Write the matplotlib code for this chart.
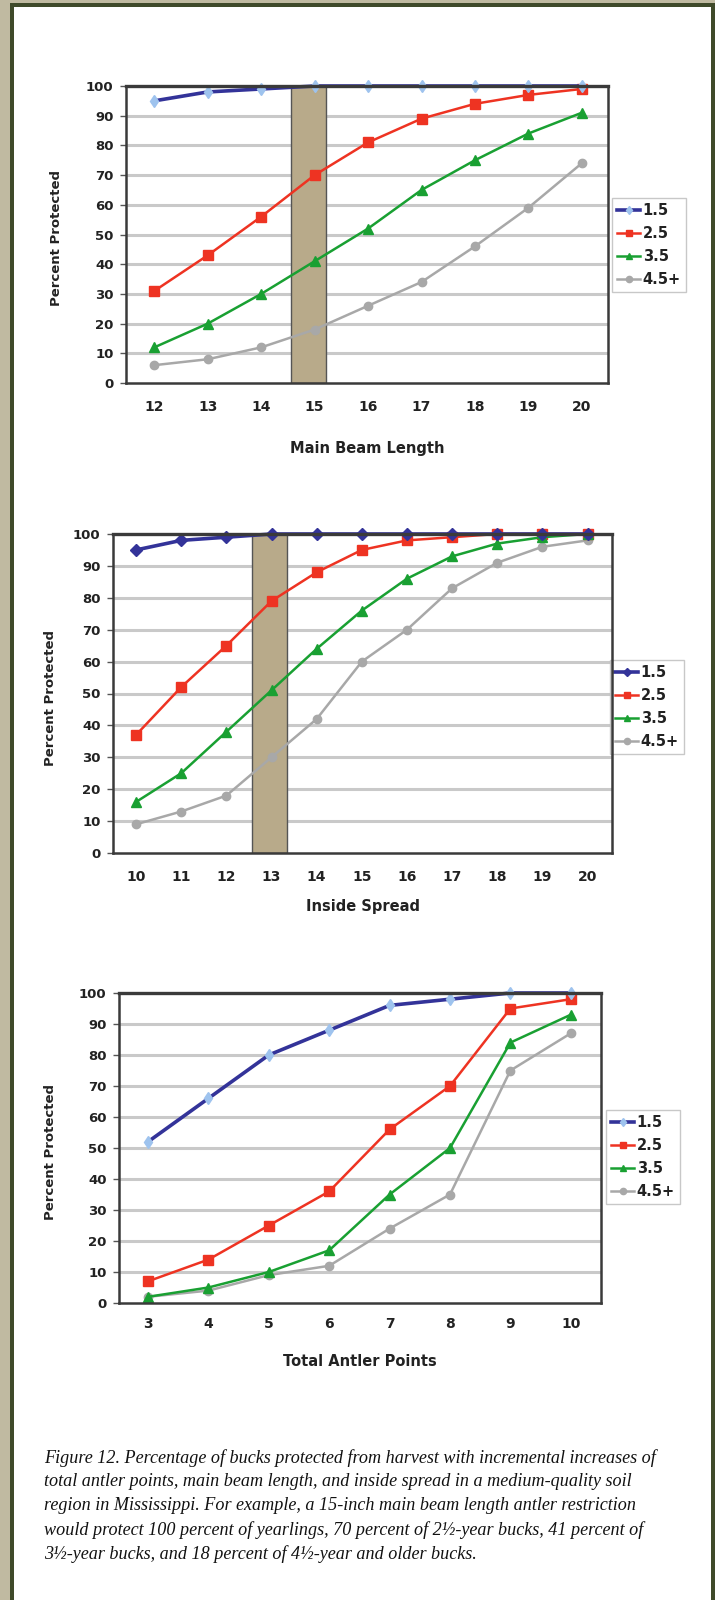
import matplotlib
matplotlib.use("Agg")
import matplotlib.pyplot as plt
from matplotlib.patches import Rectangle

# ---------------- data ----------------
series_labels = ["1.5", "2.5", "3.5", "4.5+"]

beam_x = [12, 13, 14, 15, 16, 17, 18, 19, 20]
beam_15 = [95, 98, 99, 100, 100, 100, 100, 100, 100]
beam_25 = [31, 43, 56, 70, 81, 89, 94, 97, 99]
beam_35 = [12, 20, 30, 41, 52, 65, 75, 84, 91]
beam_45 = [6, 8, 12, 18, 26, 34, 46, 59, 74]

spread_x = [10, 11, 12, 13, 14, 15, 16, 17, 18, 19, 20]
spread_15 = [95, 98, 99, 100, 100, 100, 100, 100, 100, 100, 100]
spread_25 = [37, 52, 65, 79, 88, 95, 98, 99, 100, 100, 100]
spread_35 = [16, 25, 38, 51, 64, 76, 86, 93, 97, 99, 100]
spread_45 = [9, 13, 18, 30, 42, 60, 70, 83, 91, 96, 98]

points_x = [3, 4, 5, 6, 7, 8, 9, 10]
points_15 = [52, 66, 80, 88, 96, 98, 100, 100]
points_25 = [7, 14, 25, 36, 56, 70, 95, 98]
points_35 = [2, 5, 10, 17, 35, 50, 84, 93]
points_45 = [2, 4, 9, 12, 24, 35, 75, 87]

y_ticks = [0, 10, 20, 30, 40, 50, 60, 70, 80, 90, 100]

caption_lines = [
    "Figure 12. Percentage of bucks protected from harvest with incremental increases of",
    "total antler points, main beam length, and inside spread in a medium-quality soil",
    "region in Mississippi. For example, a 15-inch main beam length antler restriction",
    "would protect 100 percent of yearlings, 70 percent of 2\u00bd-year bucks, 41 percent of",
    "3\u00bd-year bucks, and 18 percent of 4\u00bd-year and older bucks.",
]

# ---------------- figure ----------------
W, H = 715, 1600
fig = plt.figure(figsize=(W / 100, H / 100), dpi=100)
fig.patch.set_facecolor("#c0baa1")

fig.patches.append(Rectangle((10 / W, 0), (W - 10) / W, (H - 3) / H,
                             transform=fig.transFigure, facecolor="#3f4a2a",
                             edgecolor="none", zorder=-10))
fig.patches.append(Rectangle((14 / W, 0), (711 - 14) / W, (H - 7) / H,
                             transform=fig.transFigure, facecolor="white",
                             edgecolor="none", zorder=-9))

plt.rcParams["font.family"] = ["DejaVu Sans"]

NAVY = "#333399"
RED = "#ee3322"
GREEN = "#19a032"
GRAY = "#a8a8a8"
LIGHTBLUE = "#9ec3ee"
TXT = "#222222"


def px_axes(left, right, top, bottom):
    return fig.add_axes([left / W, 1 - bottom / H, (right - left) / W, (bottom - top) / H])


def make_chart(box, xs, s15, s25, s35, s45, xlim, xlabel, band, legend_box,
               m15_color, m15_marker, xpad, xlabel_y, ylabel_x):
    ax = px_axes(*box)
    ax.set_zorder(1)
    ax.set_xlim(*xlim)
    ax.set_ylim(0, 100)
    ax.set_yticks(y_ticks)
    ax.set_xticks(xs)
    for y in y_ticks[1:-1]:
        ax.axhline(y, color="#c9c9c9", lw=2.2, zorder=1)
    if band is not None:
        ax.axvspan(band[0], band[1], facecolor="#b8aa8a", edgecolor="#555555",
                   lw=1.0, zorder=2)
    h1, = ax.plot(xs, s15, color=NAVY, lw=2.6, marker=m15_marker, ms=6,
                  mfc=m15_color, mec=m15_color, zorder=5, clip_on=False)
    h2, = ax.plot(xs, s25, color=RED, lw=1.8, marker="s", ms=6.5,
                  mfc=RED, mec=RED, zorder=4, clip_on=False)
    h3, = ax.plot(xs, s35, color=GREEN, lw=1.8, marker="^", ms=6.5,
                  mfc=GREEN, mec=GREEN, zorder=4, clip_on=False)
    h4, = ax.plot(xs, s45, color=GRAY, lw=1.8, marker="o", ms=6,
                  mfc=GRAY, mec=GRAY, zorder=3, clip_on=False)
    for name, sp in ax.spines.items():
        sp.set_color("#3a3a3a")
        sp.set_linewidth(2.4 if name == "top" else 1.8)
        sp.set_zorder(6)
    ax.tick_params(axis="y", length=4, width=1, color="#555555", pad=5,
                   labelsize=9.5)
    ax.tick_params(axis="x", length=0, pad=xpad, labelsize=10)
    for lab in ax.get_xticklabels() + ax.get_yticklabels():
        lab.set_fontweight("bold")
        lab.set_color(TXT)
    fig.text(ylabel_x / W, 1 - ((box[2] + box[3]) / 2 + 4) / H, "Percent Protected",
             rotation=90, ha="center", va="center", fontsize=9.5,
             fontweight="bold", color=TXT)
    fig.text((box[0] + box[1]) / 2 / W, 1 - xlabel_y / H, xlabel, ha="center",
             va="center", fontsize=10.5, fontweight="bold", color=TXT)
    leg = ax.legend([h1, h2, h3, h4], series_labels, loc="upper left",
                    bbox_to_anchor=(legend_box[0] / W, 1 - legend_box[1] / H),
                    bbox_transform=fig.transFigure, frameon=True, fancybox=False,
                    edgecolor="#bbbbbb", handlelength=1.6, handletextpad=0.15,
                    borderpad=0.35, labelspacing=0.55, borderaxespad=0,
                    prop={"weight": "bold", "size": 10.5}, markerscale=0.75)
    leg.get_frame().set_linewidth(1.0)
    for t in leg.get_texts():
        t.set_color(TXT)
    return ax


make_chart((126, 608, 86, 383), beam_x, beam_15, beam_25, beam_35, beam_45,
           (11.47, 20.49), "Main Beam Length", (14.55, 15.22), (612, 198),
           LIGHTBLUE, "d", 12, 449, 57)
make_chart((113, 612, 534, 853), spread_x, spread_15, spread_25, spread_35, spread_45,
           (9.49, 20.54), "Inside Spread", (12.57, 13.35), (610, 660),
           NAVY, "D", 12, 907, 50)
make_chart((119, 601, 993, 1303), points_x, points_15, points_25, points_35, points_45,
           (2.52, 10.5), "Total Antler Points", None, (606, 1110),
           LIGHTBLUE, "d", 10, 1361, 50)

line_y = [1458, 1482, 1506, 1530, 1554]
for txt, y in zip(caption_lines, line_y):
    fig.text(44 / W, 1 - y / H, txt, ha="left", va="center",
             fontsize=13.1, style="italic", family=["Liberation Serif", "DejaVu Serif"],
             color="#111111")

fig.savefig("out.png", dpi=100, facecolor=fig.get_facecolor())
